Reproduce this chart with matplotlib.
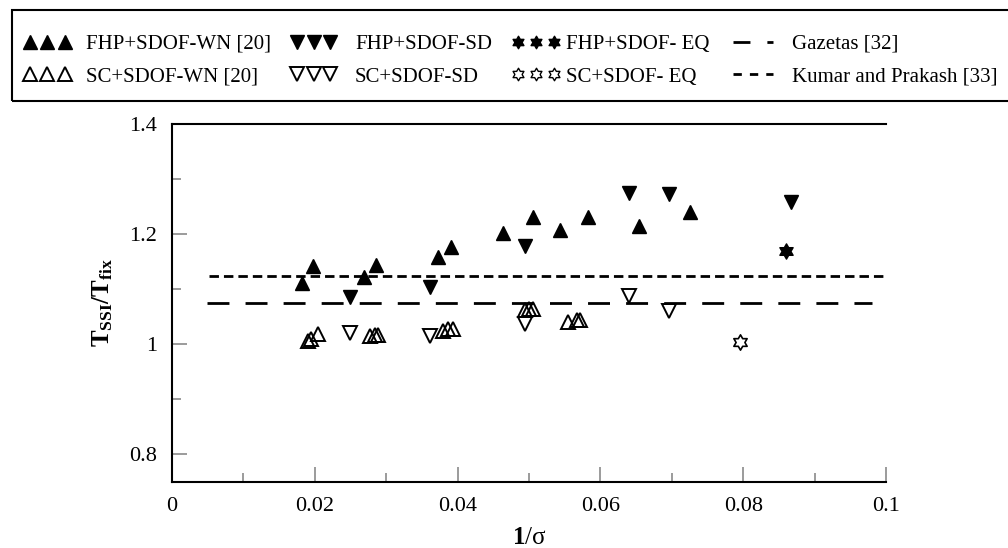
import numpy as np
import matplotlib
matplotlib.use("Agg")
import matplotlib.pyplot as plt
from matplotlib.lines import Line2D
from matplotlib.patches import Rectangle
from matplotlib.path import Path
from matplotlib.ticker import MultipleLocator, FuncFormatter

plt.rcParams['font.family'] = ['Liberation Serif', 'DejaVu Serif']
plt.rcParams['mathtext.fontset'] = 'custom'
plt.rcParams['mathtext.rm'] = 'Liberation Serif'
plt.rcParams['mathtext.it'] = 'Liberation Serif:italic'
plt.rcParams['mathtext.bf'] = 'Liberation Serif:bold'

# FHP + SDOF, white noise [20]
fhp_wn_x = [0.0182, 0.0197, 0.0269, 0.0286, 0.0372, 0.0391, 0.0463, 0.0505, 0.0543, 0.0582, 0.0654, 0.0725]
fhp_wn_y = [1.111, 1.143, 1.122, 1.144, 1.158, 1.177, 1.203, 1.231, 1.207, 1.231, 1.214, 1.241]

# FHP + SDOF, sine dwell
fhp_sd_x = [0.0249, 0.0362, 0.0495, 0.0640, 0.0696, 0.0867]
fhp_sd_y = [1.086, 1.104, 1.179, 1.275, 1.272, 1.259]

# FHP + SDOF, earthquake
fhp_eq_x = [0.0860]
fhp_eq_y = [1.169]

# SC + SDOF, white noise [20]
sc_wn_x = [0.0191, 0.0194, 0.0205, 0.0277, 0.0284, 0.0289, 0.0379, 0.0387, 0.0393,
           0.0494, 0.0500, 0.0505, 0.0554, 0.0567, 0.0571]
sc_wn_y = [1.006, 1.009, 1.018, 1.015, 1.016, 1.016, 1.024, 1.027, 1.028,
           1.063, 1.065, 1.064, 1.040, 1.044, 1.045]

# SC + SDOF, sine dwell
sc_sd_x = [0.0249, 0.0362, 0.0495, 0.0640, 0.0696]
sc_sd_y = [1.021, 1.015, 1.036, 1.0875, 1.060]

# SC + SDOF, earthquake
sc_eq_x = [0.0795]
sc_eq_y = [1.005]

# analytical estimates
gazetas_x = [0.0049, 0.098]
gazetas_y = [1.0755, 1.0755]
kumar_x = [0.0052, 0.1]
kumar_y = [1.124, 1.124]

xticks = [0, 0.02, 0.04, 0.06, 0.08, 0.1]
yticks = [0.8, 1.0, 1.2, 1.4]

# six-pointed star marker
a_out = np.deg2rad(90 + 60 * np.arange(6))
a_in = a_out + np.deg2rad(30)
r_in = 1 / np.sqrt(3)
verts = []
for a, b in zip(a_out, a_in):
    verts.append((np.cos(a), np.sin(a)))
    verts.append((r_in * np.cos(b), r_in * np.sin(b)))
verts.append(verts[0])
hexagram = Path(verts, closed=True)

W, H = 1008, 548
fig = plt.figure(figsize=(W / 100, H / 100), dpi=100)
ax = fig.add_axes([172 / W, 1 - 482 / H, 714 / W, 358 / H])

ax.plot(gazetas_x, gazetas_y, color='black', lw=2, dashes=(7.9, 5.8))
ax.plot(kumar_x, kumar_y, color='black', lw=2, dashes=(3.4, 1.8))

tri = dict(ls='none', ms=10.5, color='black')
ax.plot(fhp_wn_x, fhp_wn_y, marker='^', **tri)
ax.plot(fhp_sd_x, fhp_sd_y, marker='v', **tri)
ax.plot(sc_wn_x, sc_wn_y, marker='^', mfc='none', mew=1.4, **tri)
ax.plot(sc_sd_x, sc_sd_y, marker='v', mfc='none', mew=1.4, **tri)
ax.plot(fhp_eq_x, fhp_eq_y, marker=hexagram, ls='none', ms=11, color='black')
ax.plot(sc_eq_x, sc_eq_y, marker=hexagram, ls='none', ms=11, color='black', mfc='white', mew=1.2)

ax.set_xlim(0, 0.1)
ax.set_ylim(0.75, 1.4)
ax.set_xticks(xticks)
ax.set_yticks(yticks)
ax.xaxis.set_minor_locator(MultipleLocator(0.01))
ax.yaxis.set_minor_locator(MultipleLocator(0.1))
fmt = FuncFormatter(lambda v, p: '%g' % round(v, 3))
ax.xaxis.set_major_formatter(fmt)
ax.yaxis.set_major_formatter(fmt)
ax.tick_params(which='both', direction='in', color='#808080', width=1.1, labelsize=16,
               top=False, right=False)
ax.tick_params(which='major', length=10.8)
ax.tick_params(which='minor', length=6.5)
ax.tick_params(axis='x', pad=11)
ax.tick_params(axis='y', pad=10.5)

for side in ['left', 'bottom', 'top']:
    ax.spines[side].set_linewidth(1.5)
ax.spines['right'].set_visible(False)

ax.set_xlabel(r'$\mathbf{1}$/σ', fontsize=18, va='top')
ax.xaxis.set_label_coords(0.5, -0.127)
ax.set_ylabel(r'$\mathbf{T_{SSI}/T_{fix}}$', fontsize=18)
ax.yaxis.set_label_coords(-0.08, 0.5)

# legend, four columns inside one frame
mk = dict(ls='none', color='black')
h_fhp_wn = Line2D([], [], marker='^', ms=10.5, **mk)
h_sc_wn = Line2D([], [], marker='^', ms=10.5, mfc='none', mew=1.4, **mk)
h_fhp_sd = Line2D([], [], marker='v', ms=10.5, **mk)
h_sc_sd = Line2D([], [], marker='v', ms=10.5, mfc='none', mew=1.4, **mk)
h_fhp_eq = Line2D([], [], marker=hexagram, ms=9, **mk)
h_sc_eq = Line2D([], [], marker=hexagram, ms=9, mfc='white', mew=1.0, **mk)
h_gaz = Line2D([], [], color='black', lw=2, dashes=(6.1, 6.1))
h_kum = Line2D([], [], color='black', lw=2, dashes=(3.0, 2.9))

columns = [
    ([h_fhp_wn, h_sc_wn], ['FHP+SDOF-WN [20]', 'SC+SDOF-WN [20]'], 23.5, 2.28, 0.72, 3),
    ([h_fhp_sd, h_sc_sd], ['FHP+SDOF-SD', 'SC+SDOF-SD'], 290.8, 2.18, 0.9, 3),
    ([h_fhp_eq, h_sc_eq], ['FHP+SDOF- EQ', 'SC+SDOF- EQ'], 511.8, 2.33, 0.25, 3),
    ([h_gaz, h_kum], ['Gazetas [32]', 'Kumar and Prakash [33]'], 733, 1.92, 0.91, 1),
]
for handles, labels, x0, hl, htp, npts in columns:
    fig.legend(handles, labels, loc='center left', bbox_to_anchor=(x0 / W, 1 - 60.5 / H),
               frameon=False, borderpad=0, borderaxespad=0, fontsize=15, numpoints=npts,
               handlelength=hl, handletextpad=htp, labelspacing=0.64)

fig.add_artist(Rectangle((12 / W, 1 - 101 / H), 1.0, 91 / H, transform=fig.transFigure,
                         fill=False, edgecolor='black', lw=1.5))

fig.savefig('out.png', dpi=100)
